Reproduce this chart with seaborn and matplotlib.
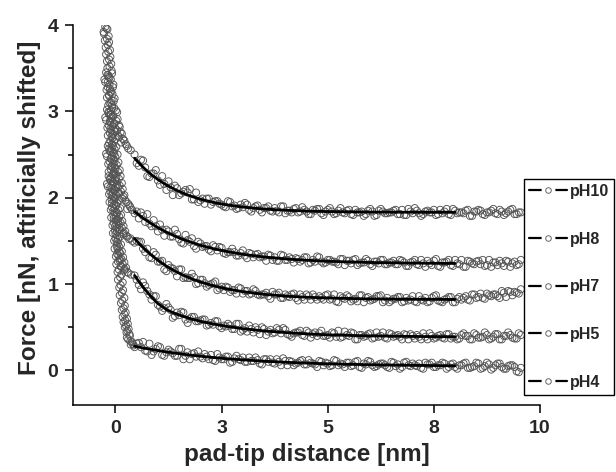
import matplotlib
matplotlib.use("Agg")
import matplotlib.pyplot as plt
import seaborn as sns
import pandas as pd
from matplotlib.lines import Line2D
from matplotlib.legend_handler import HandlerTuple

# ---------------- data ----------------
series_labels = ["pH10", "pH8", "pH7", "pH5", "pH4"]

xtick_pos = [0, 2.5, 5, 7.5, 10]
xtick_labels = ["0", "3", "5", "8", "10"]
ytick_pos = [0, 1, 2, 3, 4]
ytick_labels = ["0", "1", "2", "3", "4"]
yminor_pos = [0.5, 1.5, 2.5, 3.5]

# distance grids of the flat (long-range) part of every curve
dist_a = [0.45, 0.55, 0.65, 0.75, 0.85, 0.95, 1.05, 1.15, 1.25, 1.35,
          1.45, 1.55, 1.65, 1.75, 1.85, 1.95, 2.05, 2.15, 2.25, 2.35,
          2.45, 2.55, 2.65, 2.75, 2.85, 2.95, 3.05, 3.15, 3.25, 3.35,
          3.45, 3.55, 3.65, 3.75, 3.85, 3.95, 4.05, 4.15, 4.25, 4.35,
          4.45, 4.55, 4.65, 4.75, 4.85, 4.95, 5.05, 5.15, 5.25, 5.35,
          5.45, 5.55, 5.65, 5.75, 5.85, 5.95, 6.05, 6.15, 6.25, 6.35,
          6.45, 6.55, 6.65, 6.75, 6.85, 6.95, 7.05, 7.15, 7.25, 7.35,
          7.45, 7.55, 7.65, 7.75, 7.85, 7.95, 8.05, 8.15, 8.25, 8.35,
          8.45, 8.55, 8.65, 8.75, 8.85, 8.95, 9.05, 9.15, 9.25, 9.35,
          9.45, 9.55]
dist_b = [0.50, 0.60, 0.70, 0.80, 0.90, 1.00, 1.10, 1.20, 1.30, 1.40,
          1.50, 1.60, 1.70, 1.80, 1.90, 2.00, 2.10, 2.20, 2.30, 2.40,
          2.50, 2.60, 2.70, 2.80, 2.90, 3.00, 3.10, 3.20, 3.30, 3.40,
          3.50, 3.60, 3.70, 3.80, 3.90, 4.00, 4.10, 4.20, 4.30, 4.40,
          4.50, 4.60, 4.70, 4.80, 4.90, 5.00, 5.10, 5.20, 5.30, 5.40,
          5.50, 5.60, 5.70, 5.80, 5.90, 6.00, 6.10, 6.20, 6.30, 6.40,
          6.50, 6.60, 6.70, 6.80, 6.90, 7.00, 7.10, 7.20, 7.30, 7.40,
          7.50, 7.60, 7.70, 7.80, 7.90, 8.00, 8.10, 8.20, 8.30, 8.40,
          8.50, 8.60, 8.70, 8.80, 8.90, 9.00, 9.10, 9.20, 9.30, 9.40,
          9.50]

pH10_flat_a = [2.50, 2.37, 2.43, 2.25, 2.28, 2.32, 2.15, 2.16, 2.19, 2.03,
               2.11, 2.05, 2.09, 2.10, 1.98, 1.95, 1.99, 1.99, 1.92, 1.96,
               1.93, 1.90, 1.96, 1.90, 1.87, 1.92, 1.94, 1.86, 1.88, 1.91,
               1.83, 1.88, 1.85, 1.88, 1.83, 1.90, 1.85, 1.83, 1.88, 1.84,
               1.86, 1.81, 1.86, 1.87, 1.82, 1.84, 1.88, 1.81, 1.85, 1.83,
               1.85, 1.81, 1.86, 1.83, 1.79, 1.85, 1.84, 1.80, 1.87, 1.82,
               1.83, 1.85, 1.81, 1.86, 1.80, 1.84, 1.88, 1.82, 1.81, 1.85,
               1.83, 1.80, 1.86, 1.84, 1.81, 1.87, 1.82, 1.83, 1.85, 1.79,
               1.84, 1.86, 1.81, 1.83, 1.85, 1.82, 1.86, 1.80, 1.84, 1.87,
               1.81, 1.83]
pH10_flat_b = [2.40, 2.44, 2.35, 2.24, 2.28, 2.20, 2.25, 2.09, 2.12, 2.14,
               2.03, 2.07, 2.06, 1.98, 2.06, 1.97, 1.93, 1.99, 1.95, 1.96,
               1.92, 1.89, 1.95, 1.91, 1.88, 1.89, 1.92, 1.84, 1.90, 1.86,
               1.88, 1.90, 1.84, 1.85, 1.90, 1.82, 1.85, 1.87, 1.83, 1.89,
               1.84, 1.81, 1.85, 1.87, 1.80, 1.86, 1.84, 1.82, 1.88, 1.82,
               1.86, 1.80, 1.83, 1.84, 1.81, 1.87, 1.79, 1.85, 1.84, 1.82,
               1.83, 1.86, 1.81, 1.80, 1.87, 1.82, 1.85, 1.79, 1.84, 1.83,
               1.86, 1.81, 1.82, 1.87, 1.80, 1.85, 1.83, 1.82, 1.86, 1.79,
               1.84, 1.85, 1.80, 1.83, 1.87, 1.81, 1.84, 1.82, 1.86, 1.81,
               1.83]
pH8_flat_a = [1.82, 1.76, 1.79, 1.81, 1.67, 1.67, 1.69, 1.56, 1.61, 1.55,
              1.58, 1.48, 1.57, 1.49, 1.44, 1.49, 1.43, 1.44, 1.38, 1.43,
              1.43, 1.36, 1.37, 1.41, 1.33, 1.36, 1.33, 1.36, 1.31, 1.35,
              1.32, 1.27, 1.33, 1.31, 1.27, 1.33, 1.28, 1.29, 1.30, 1.26,
              1.31, 1.24, 1.28, 1.32, 1.26, 1.25, 1.28, 1.26, 1.23, 1.29,
              1.27, 1.24, 1.29, 1.24, 1.25, 1.27, 1.21, 1.26, 1.28, 1.23,
              1.25, 1.27, 1.23, 1.27, 1.21, 1.25, 1.28, 1.22, 1.24, 1.27,
              1.22, 1.29, 1.20, 1.25, 1.28, 1.21, 1.24, 1.28, 1.20, 1.26,
              1.23, 1.27, 1.28, 1.22, 1.20, 1.25, 1.27, 1.21, 1.26, 1.24,
              1.22, 1.28]
pH8_flat_b = [1.84, 1.83, 1.72, 1.70, 1.74, 1.61, 1.63, 1.63, 1.55, 1.63,
              1.52, 1.47, 1.51, 1.53, 1.41, 1.47, 1.44, 1.40, 1.45, 1.39,
              1.42, 1.35, 1.37, 1.37, 1.33, 1.39, 1.30, 1.35, 1.34, 1.31,
              1.32, 1.34, 1.28, 1.27, 1.34, 1.28, 1.31, 1.25, 1.29, 1.28,
              1.31, 1.25, 1.26, 1.31, 1.24, 1.28, 1.26, 1.25, 1.29, 1.22,
              1.27, 1.28, 1.22, 1.25, 1.29, 1.23, 1.26, 1.24, 1.28, 1.23,
              1.25, 1.23, 1.28, 1.25, 1.21, 1.26, 1.23, 1.28, 1.20, 1.24,
              1.27, 1.21, 1.25, 1.26, 1.22, 1.28, 1.23, 1.20, 1.27, 1.24,
              1.26, 1.23, 1.21, 1.28, 1.25, 1.22, 1.24, 1.27, 1.20, 1.26,
              1.23]
pH7_flat_a = [1.48, 1.49, 1.41, 1.41, 1.30, 1.34, 1.26, 1.17, 1.22, 1.18,
              1.09, 1.17, 1.08, 1.07, 1.08, 1.01, 1.05, 0.97, 1.00, 1.03,
              0.95, 0.93, 0.96, 0.93, 0.89, 0.95, 0.92, 0.88, 0.94, 0.88,
              0.88, 0.90, 0.83, 0.88, 0.90, 0.84, 0.86, 0.88, 0.84, 0.88,
              0.82, 0.86, 0.88, 0.82, 0.84, 0.87, 0.82, 0.88, 0.79, 0.84,
              0.87, 0.80, 0.83, 0.87, 0.79, 0.85, 0.82, 0.86, 0.87, 0.81,
              0.79, 0.83, 0.85, 0.79, 0.84, 0.82, 0.80, 0.86, 0.81, 0.79,
              0.84, 0.87, 0.80, 0.82, 0.85, 0.79, 0.83, 0.82, 0.86, 0.81,
              0.88, 0.85, 0.84, 0.89, 0.86, 0.88, 0.84, 0.90, 0.92, 0.87,
              0.90, 0.94]
pH7_flat_b = [1.50, 1.49, 1.37, 1.31, 1.37, 1.26, 1.27, 1.15, 1.19, 1.15,
              1.17, 1.07, 1.07, 1.12, 1.00, 1.05, 1.01, 0.99, 1.01, 0.93,
              0.97, 0.97, 0.91, 0.93, 0.96, 0.89, 0.92, 0.89, 0.92, 0.87,
              0.88, 0.86, 0.91, 0.88, 0.84, 0.88, 0.85, 0.89, 0.81, 0.85,
              0.88, 0.82, 0.85, 0.86, 0.82, 0.88, 0.83, 0.80, 0.86, 0.83,
              0.85, 0.82, 0.80, 0.87, 0.84, 0.81, 0.83, 0.86, 0.79, 0.84,
              0.81, 0.83, 0.85, 0.80, 0.81, 0.86, 0.79, 0.82, 0.84, 0.80,
              0.86, 0.81, 0.79, 0.83, 0.85, 0.79, 0.85, 0.84, 0.82, 0.88,
              0.84, 0.89, 0.83, 0.87, 0.88, 0.86, 0.92, 0.85, 0.91, 0.91,
              0.89]
pH5_flat_a = [1.10, 0.99, 1.02, 0.92, 0.82, 0.86, 0.74, 0.72, 0.73, 0.61,
              0.67, 0.68, 0.59, 0.60, 0.62, 0.57, 0.59, 0.52, 0.55, 0.57,
              0.51, 0.52, 0.54, 0.48, 0.54, 0.45, 0.49, 0.52, 0.44, 0.47,
              0.50, 0.41, 0.47, 0.44, 0.47, 0.49, 0.42, 0.39, 0.44, 0.46,
              0.40, 0.44, 0.42, 0.40, 0.46, 0.40, 0.38, 0.43, 0.46, 0.39,
              0.41, 0.44, 0.36, 0.41, 0.39, 0.42, 0.37, 0.44, 0.40, 0.38,
              0.43, 0.39, 0.41, 0.36, 0.41, 0.42, 0.37, 0.39, 0.43, 0.36,
              0.40, 0.38, 0.41, 0.37, 0.42, 0.39, 0.36, 0.41, 0.40, 0.36,
              0.43, 0.38, 0.39, 0.41, 0.37, 0.42, 0.36, 0.40, 0.44, 0.38,
              0.37, 0.41]
pH5_flat_b = [1.05, 0.94, 0.98, 0.88, 0.86, 0.76, 0.69, 0.77, 0.70, 0.63,
              0.64, 0.67, 0.55, 0.62, 0.57, 0.58, 0.59, 0.53, 0.53, 0.57,
              0.49, 0.51, 0.52, 0.48, 0.54, 0.47, 0.45, 0.48, 0.50, 0.42,
              0.48, 0.45, 0.43, 0.49, 0.43, 0.47, 0.41, 0.43, 0.44, 0.41,
              0.46, 0.38, 0.44, 0.43, 0.40, 0.41, 0.44, 0.39, 0.38, 0.45,
              0.40, 0.43, 0.36, 0.41, 0.40, 0.43, 0.38, 0.39, 0.44, 0.37,
              0.42, 0.40, 0.39, 0.42, 0.36, 0.40, 0.41, 0.36, 0.39, 0.43,
              0.37, 0.40, 0.38, 0.42, 0.37, 0.39, 0.37, 0.43, 0.40, 0.36,
              0.41, 0.38, 0.44, 0.36, 0.39, 0.42, 0.36, 0.40, 0.41, 0.37,
              0.43]
pH4_flat_a = [0.27, 0.32, 0.33, 0.22, 0.18, 0.25, 0.27, 0.17, 0.24, 0.20,
              0.17, 0.25, 0.17, 0.13, 0.20, 0.22, 0.14, 0.16, 0.18, 0.11,
              0.15, 0.13, 0.16, 0.10, 0.17, 0.12, 0.10, 0.15, 0.11, 0.12,
              0.07, 0.13, 0.13, 0.08, 0.10, 0.14, 0.06, 0.10, 0.08, 0.11,
              0.07, 0.12, 0.08, 0.04, 0.10, 0.09, 0.05, 0.12, 0.06, 0.07,
              0.09, 0.05, 0.10, 0.04, 0.08, 0.11, 0.06, 0.05, 0.08, 0.06,
              0.03, 0.09, 0.07, 0.04, 0.10, 0.05, 0.06, 0.08, 0.02, 0.07,
              0.09, 0.04, 0.06, 0.08, 0.04, 0.08, 0.02, 0.06, 0.09, 0.03,
              0.05, 0.08, 0.03, 0.09, 0.01, 0.06, 0.08, 0.02, 0.05, 0.06,
              -0.01, 0.03]
pH4_flat_b = [0.31, 0.27, 0.23, 0.31, 0.22, 0.28, 0.18, 0.21, 0.22, 0.17,
              0.25, 0.13, 0.21, 0.19, 0.16, 0.16, 0.19, 0.13, 0.12, 0.19,
              0.13, 0.16, 0.09, 0.14, 0.13, 0.15, 0.10, 0.11, 0.15, 0.08,
              0.13, 0.10, 0.09, 0.13, 0.06, 0.11, 0.11, 0.06, 0.09, 0.12,
              0.07, 0.09, 0.07, 0.11, 0.06, 0.08, 0.06, 0.11, 0.08, 0.04,
              0.09, 0.06, 0.11, 0.03, 0.07, 0.10, 0.04, 0.07, 0.08, 0.04,
              0.10, 0.05, 0.02, 0.09, 0.06, 0.08, 0.05, 0.03, 0.09, 0.07,
              0.04, 0.06, 0.09, 0.02, 0.07, 0.04, 0.06, 0.08, 0.03, 0.04,
              0.09, 0.02, 0.05, 0.07, 0.03, 0.08, 0.04, 0.02, 0.06, 0.04,
              -0.02]

# steep (contact) part of every curve
pH10_steep_x = [-0.24, -0.19, -0.27, -0.20, -0.15, -0.23, -0.17, -0.12, -0.20, -0.14,
                -0.09, -0.17, -0.11, -0.05, -0.13, -0.07, -0.02, -0.10, -0.03, 0.04,
                -0.06, 0.02, 0.08, 0.00, 0.12, 0.06, 0.18, 0.13, 0.24, 0.30, 0.36,
                -0.21, -0.28, -0.16, -0.25, -0.18, -0.13, -0.22, -0.15, -0.10, -0.19,
                -0.08, -0.14, -0.18, -0.06, -0.10, -0.15, -0.04, -0.08, 0.01, -0.11,
                0.05, -0.02, 0.10, 0.04, 0.15, 0.09, 0.21, 0.27]
pH10_steep_y = [3.98, 3.95, 3.90, 3.84, 3.80, 3.74, 3.69, 3.63, 3.58, 3.52,
                3.47, 3.42, 3.37, 3.31, 3.26, 3.20, 3.15, 3.10, 3.04, 2.99,
                2.94, 2.89, 2.84, 2.80, 2.76, 2.72, 2.68, 2.64, 2.62, 2.57, 2.55,
                3.96, 3.92, 3.87, 3.82, 3.77, 3.71, 3.66, 3.60, 3.55, 3.50,
                3.44, 3.39, 3.34, 3.28, 3.23, 3.18, 3.12, 3.07, 3.01, 2.96,
                2.91, 2.86, 2.82, 2.78, 2.74, 2.70, 2.66, 2.60]
pH8_steep_x = [-0.22, -0.16, -0.24, -0.18, -0.12, -0.20, -0.14, -0.08, -0.16, -0.10,
               -0.04, -0.12, -0.06, 0.00, -0.08, -0.02, 0.05, -0.04, 0.03, 0.10,
               0.01, 0.08, 0.15, 0.06, 0.13, 0.21, 0.16, 0.26, 0.33, 0.28, 0.39,
               -0.19, -0.26, -0.14, -0.21, -0.15, -0.09, -0.17, -0.11, -0.05, -0.13,
               -0.07, -0.02, -0.09, -0.03, 0.02, -0.05, 0.00, 0.07, -0.01, 0.06,
               0.12, 0.03, 0.10, 0.17, 0.09, 0.19, 0.23, 0.30, 0.35]
pH8_steep_y = [3.45, 3.40, 3.34, 3.28, 3.22, 3.16, 3.10, 3.04, 2.98, 2.92,
               2.86, 2.80, 2.74, 2.68, 2.62, 2.56, 2.50, 2.44, 2.38, 2.32,
               2.27, 2.22, 2.17, 2.12, 2.07, 2.03, 1.99, 1.95, 1.91, 1.87, 1.86,
               3.42, 3.37, 3.31, 3.25, 3.19, 3.13, 3.07, 3.01, 2.95, 2.89,
               2.83, 2.77, 2.71, 2.65, 2.59, 2.53, 2.47, 2.41, 2.35, 2.30,
               2.25, 2.19, 2.14, 2.10, 2.05, 2.01, 1.97, 1.93, 1.89]
pH7_steep_x = [-0.20, -0.14, -0.22, -0.16, -0.10, -0.18, -0.12, -0.06, -0.14, -0.08,
               -0.02, -0.10, -0.04, 0.02, -0.06, 0.00, 0.06, -0.02, 0.04, 0.11,
               0.03, 0.09, 0.16, 0.08, 0.15, 0.23, 0.18, 0.28, 0.35, 0.40,
               -0.17, -0.24, -0.12, -0.19, -0.13, -0.07, -0.15, -0.09, -0.03, -0.11,
               -0.05, 0.00, -0.07, -0.01, 0.04, -0.03, 0.02, 0.09, 0.01, 0.07,
               0.13, 0.05, 0.12, 0.19, 0.11, 0.20, 0.25, 0.32]
pH7_steep_y = [3.02, 2.96, 2.90, 2.84, 2.78, 2.72, 2.66, 2.60, 2.54, 2.48,
               2.42, 2.36, 2.30, 2.24, 2.18, 2.12, 2.06, 2.00, 1.94, 1.88,
               1.83, 1.78, 1.73, 1.69, 1.65, 1.61, 1.58, 1.55, 1.53, 1.50,
               2.99, 2.93, 2.87, 2.81, 2.75, 2.69, 2.63, 2.57, 2.51, 2.45,
               2.39, 2.33, 2.27, 2.21, 2.15, 2.09, 2.03, 1.97, 1.91, 1.86,
               1.80, 1.75, 1.71, 1.67, 1.63, 1.59, 1.56, 1.52]
pH5_steep_x = [-0.18, -0.12, -0.20, -0.14, -0.08, -0.16, -0.10, -0.04, -0.12, -0.06,
               0.00, -0.08, -0.02, 0.04, -0.04, 0.02, 0.08, 0.00, 0.06, 0.13,
               0.05, 0.11, 0.18, 0.10, 0.17, 0.25, 0.20, 0.30, 0.37,
               -0.15, -0.22, -0.10, -0.17, -0.11, -0.05, -0.13, -0.07, -0.01, -0.09,
               -0.03, 0.02, -0.05, 0.01, 0.06, -0.01, 0.04, 0.11, 0.03, 0.09,
               0.15, 0.07, 0.14, 0.21, 0.13, 0.22, 0.28]
pH5_steep_y = [2.60, 2.54, 2.48, 2.42, 2.36, 2.30, 2.24, 2.18, 2.12, 2.06,
               2.00, 1.94, 1.88, 1.82, 1.76, 1.70, 1.64, 1.58, 1.52, 1.46,
               1.41, 1.36, 1.31, 1.27, 1.23, 1.19, 1.16, 1.13, 1.11,
               2.57, 2.51, 2.45, 2.39, 2.33, 2.27, 2.21, 2.15, 2.09, 2.03,
               1.97, 1.91, 1.85, 1.79, 1.73, 1.67, 1.61, 1.55, 1.49, 1.43,
               1.38, 1.33, 1.29, 1.25, 1.21, 1.17, 1.14]
pH4_steep_x = [-0.16, -0.10, -0.18, -0.12, -0.06, -0.14, -0.08, -0.02, -0.10, -0.04,
               0.02, -0.06, 0.00, 0.06, -0.02, 0.04, 0.10, 0.02, 0.08, 0.14,
               0.06, 0.12, 0.18, 0.10, 0.16, 0.22, 0.15, 0.21, 0.27, 0.19,
               0.25, 0.31, 0.26, 0.34, 0.30, 0.39, 0.36, 0.43,
               -0.13, -0.20, -0.08, -0.15, -0.09, -0.03, -0.11, -0.05, 0.01, -0.07,
               -0.01, 0.04, -0.03, 0.03, 0.08, 0.01, 0.06, 0.13, 0.05, 0.11,
               0.17, 0.09, 0.15, 0.21, 0.13, 0.19, 0.24, 0.17, 0.23, 0.29,
               0.22, 0.28, 0.33, 0.27, 0.35, 0.41]
pH4_steep_y = [2.25, 2.19, 2.13, 2.07, 2.01, 1.95, 1.89, 1.83, 1.77, 1.71,
               1.65, 1.59, 1.53, 1.47, 1.41, 1.35, 1.29, 1.23, 1.17, 1.11,
               1.05, 0.99, 0.93, 0.87, 0.81, 0.75, 0.70, 0.65, 0.60, 0.56,
               0.52, 0.48, 0.44, 0.40, 0.36, 0.33, 0.30, 0.29,
               2.22, 2.16, 2.10, 2.04, 1.98, 1.92, 1.86, 1.80, 1.74, 1.68,
               1.62, 1.56, 1.50, 1.44, 1.38, 1.32, 1.26, 1.20, 1.14, 1.08,
               1.02, 0.96, 0.90, 0.84, 0.78, 0.72, 0.67, 0.62, 0.58, 0.54,
               0.50, 0.46, 0.42, 0.38, 0.34, 0.31]

# fitted curves
fit_x = [0.45, 0.55, 0.7, 0.85, 1.0, 1.2, 1.4, 1.6, 1.8, 2.0,
         2.3, 2.6, 3.0, 3.5, 4.0, 4.5, 5.0, 6.0, 7.0, 8.0]
pH10_fit = [2.458, 2.404, 2.330, 2.266, 2.211, 2.148, 2.095, 2.051, 2.014, 1.983,
            1.947, 1.919, 1.892, 1.869, 1.855, 1.846, 1.840, 1.834, 1.832, 1.831]
pH8_fit = [1.840, 1.801, 1.747, 1.698, 1.654, 1.602, 1.556, 1.516, 1.481, 1.450,
           1.411, 1.379, 1.345, 1.314, 1.292, 1.276, 1.264, 1.250, 1.243, 1.239]
pH7_fit = [1.528, 1.473, 1.399, 1.334, 1.276, 1.208, 1.151, 1.102, 1.060, 1.025,
           0.981, 0.947, 0.912, 0.882, 0.861, 0.848, 0.839, 0.828, 0.824, 0.822]
pH5_fit = [1.100, 1.030, 0.935, 0.850, 0.775, 0.705, 0.660, 0.625, 0.595, 0.570,
           0.538, 0.512, 0.484, 0.458, 0.439, 0.424, 0.412, 0.400, 0.394, 0.390]
pH4_fit = [0.280, 0.270, 0.256, 0.243, 0.230, 0.215, 0.201, 0.188, 0.176, 0.165,
           0.150, 0.137, 0.123, 0.107, 0.095, 0.085, 0.077, 0.066, 0.059, 0.054]

# ---------------- assemble ----------------
steep = {
    "pH10": (pH10_steep_x, pH10_steep_y),
    "pH8": (pH8_steep_x, pH8_steep_y),
    "pH7": (pH7_steep_x, pH7_steep_y),
    "pH5": (pH5_steep_x, pH5_steep_y),
    "pH4": (pH4_steep_x, pH4_steep_y),
}
flat_a = {"pH10": pH10_flat_a, "pH8": pH8_flat_a, "pH7": pH7_flat_a,
          "pH5": pH5_flat_a, "pH4": pH4_flat_a}
flat_b = {"pH10": pH10_flat_b, "pH8": pH8_flat_b, "pH7": pH7_flat_b,
          "pH5": pH5_flat_b, "pH4": pH4_flat_b}
fits = {"pH10": pH10_fit, "pH8": pH8_fit, "pH7": pH7_fit,
        "pH5": pH5_fit, "pH4": pH4_fit}

rows = []
for lab in series_labels:
    sx, sy = steep[lab]
    for a, b in zip(sx, sy):
        rows.append((lab, a, b))
    for a, b in zip(dist_a, flat_a[lab]):
        rows.append((lab, a, b))
    for a, b in zip(dist_b, flat_b[lab]):
        rows.append((lab, a, b))
points = pd.DataFrame(rows, columns=["series", "distance", "force"])

fit_rows = []
for lab in series_labels:
    for a, b in zip(fit_x, fits[lab]):
        fit_rows.append((lab, a, b))
fit_df = pd.DataFrame(fit_rows, columns=["series", "distance", "force"])

# ---------------- style ----------------
sns.set_theme(style="ticks")
plt.rcParams["font.family"] = ["Liberation Sans", "DejaVu Sans"]
plt.rcParams["font.weight"] = "bold"
plt.rcParams["axes.labelweight"] = "bold"

fig = plt.figure(figsize=(6.16, 4.72), dpi=100)
ax = fig.add_axes([73 / 616, 67 / 472, 467 / 616, 380 / 472])

sns.scatterplot(data=points, x="distance", y="force", ax=ax, color="0.3",
                s=26, marker="o", legend=False, zorder=2)
for coll in ax.collections:
    coll.set_facecolor("none")
    coll.set_edgecolor("0.33")
    coll.set_linewidth(0.65)

for lab in series_labels:
    sns.lineplot(data=fit_df[fit_df["series"] == lab], x="distance", y="force",
                 ax=ax, color="black", linewidth=2.0, sort=False,
                 estimator=None, legend=False, zorder=3)

ax.set_xlim(-1.0, 10.0)
ax.set_ylim(-0.4, 4.0)
ax.set_xticks(xtick_pos)
ax.set_xticklabels(xtick_labels)
ax.set_yticks(ytick_pos)
ax.set_yticklabels(ytick_labels)
ax.set_yticks(yminor_pos, minor=True)

for side in ["top", "right"]:
    ax.spines[side].set_visible(False)
for side in ["left", "bottom"]:
    ax.spines[side].set_linewidth(1.1)
    ax.spines[side].set_color("black")

ax.tick_params(axis="both", which="major", direction="out", length=5.5,
               width=1.1, color="black", labelsize=14, pad=5)
ax.tick_params(axis="y", which="minor", direction="out", length=3.5,
               width=1.1, color="black")
for t in ax.get_xticklabels() + ax.get_yticklabels():
    t.set_fontweight("bold")

ax.set_xlabel("pad-tip distance [nm]", fontsize=17.5, fontweight="bold")
ax.set_ylabel("Force [nN, aftificially shifted]", fontsize=17.5, fontweight="bold")
ax.xaxis.set_label_coords(0.5, -0.1)
ax.yaxis.set_label_coords(-0.068, 0.52)

handles = []
for lab in series_labels:
    h = (Line2D([], [], color="black", linewidth=1.6),
         Line2D([], [], linestyle="", marker="o", markersize=9,
                markerfacecolor="white", markeredgecolor="white"),
         Line2D([], [], linestyle="", marker="o", markersize=4,
                markerfacecolor="white", markeredgecolor="0.4",
                markeredgewidth=0.7))
    handles.append(h)

leg = ax.legend(handles, series_labels, loc="upper left",
                bbox_to_anchor=(524 / 616, 1 - 179 / 472),
                bbox_transform=fig.transFigure, frameon=True, fancybox=False,
                edgecolor="black", framealpha=1, borderpad=0.3,
                labelspacing=2.05, handlelength=2.4, handletextpad=0.2,
                borderaxespad=0, prop={"weight": "bold", "size": 11.5},
                handler_map={tuple: HandlerTuple(ndivide=1)})
leg.get_frame().set_linewidth(1.0)

fig.savefig("out.png", dpi=100)
